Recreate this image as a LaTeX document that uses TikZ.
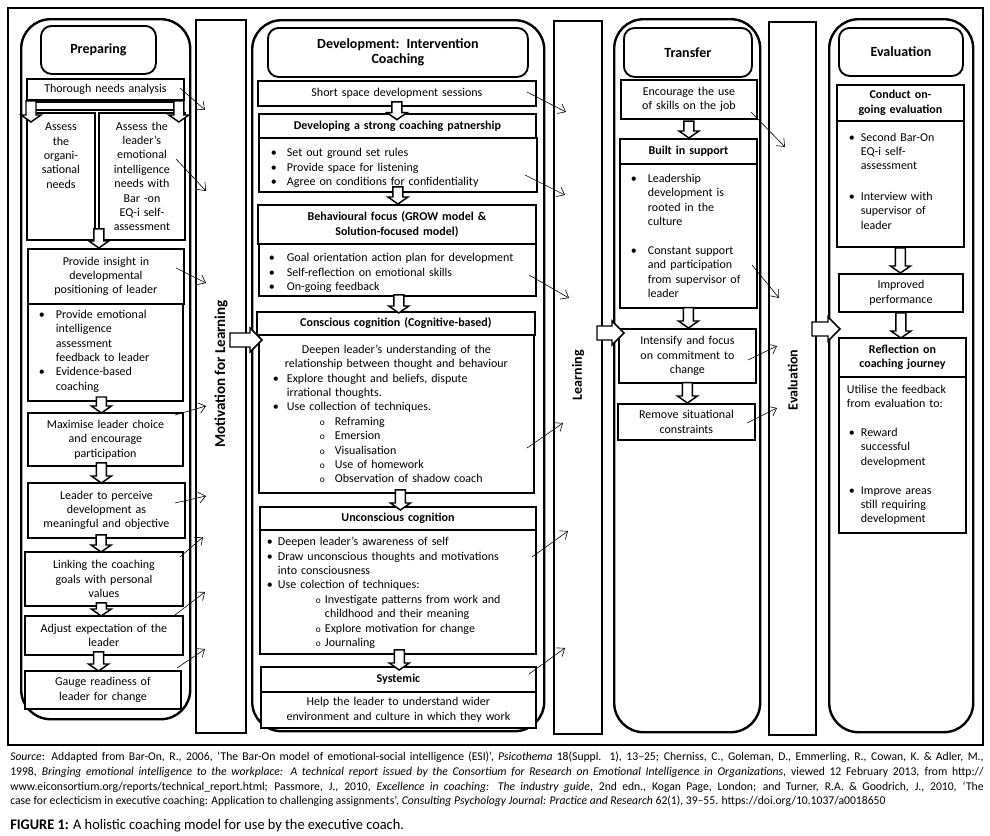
\documentclass[tikz,border=0pt]{standalone}
\usepackage{fontspec}
\setmainfont{Carlito}
\newfontfamily\condfont{Carlito}[FakeStretch=0.98]
\usetikzlibrary{calc,arrows.meta}

\newcommand\bx[7][]{%
  \pgfmathsetmacro\bxw{(#5-#3)*0.75}%
  \pgfmathsetmacro\bxh{(#6-#4)*0.75}%
  \pgfmathsetmacro\bxt{(#5-#3-6)*0.75}%
  \node[box,anchor=north west,minimum width=\bxw pt,minimum height=\bxh pt,text width=\bxt pt,#1] (#2) at (#3,#4) {#7};}
\newcommand\itm[4]{\par\noindent\hspace*{#1}\hangindent=#2\hangafter=1\makebox[\dimexpr#2-#1\relax][l]{#3}\ignorespaces#4\par}
\newcommand\bul[3]{\itm{#1}{#2}{\textbullet}{#3}}
\newcommand\sbul[3]{\itm{#1}{#2}{{\fontsize{7}{7}\selectfont o}}{#3}}
\newcommand\botpad[1]{\par\kern#1\hrule height0pt width0pt\relax}

\tikzset{
  box/.style={draw, line width=1.4pt, fill=white, inner xsep=2.25pt, inner ysep=0pt, align=center, font=\fontsize{9}{10.8}\selectfont},
  hd/.style={font=\bfseries\fontsize{9}{10.8}\selectfont},
  lbox/.style={align=left},
  ttl/.style={rounded corners=8pt, font=\bfseries\fontsize{10.5}{11}\selectfont},
  col/.style={line width=1.8pt, rounded corners=22pt},
  tall/.style={line width=1.8pt},
  txt/.style={inner sep=0pt, align=center, font=\fontsize{9}{10.8}\selectfont},
  vlabel/.style={rotate=90, inner sep=0pt, font=\bfseries\fontsize{10.5}{12}\selectfont},
  blk/.style={draw, fill=white, line width=1.1pt, line join=miter},
  blkdn/.style={to path={let \p1=(\tikztostart), \p2=(\tikztotarget) in
      (\x1-3.75pt,\y1) -- (\x1-3.75pt,\y2+5.25pt) -- (\x1-7.5pt,\y2+5.25pt) -- (\x1,\y2)
      -- (\x1+7.5pt,\y2+5.25pt) -- (\x1+3.75pt,\y2+5.25pt) -- (\x1+3.75pt,\y1) -- cycle}},
  blkrt/.style={to path={let \p1=(\tikztostart), \p2=(\tikztotarget) in
      (\x1,\y1-5.25pt) -- (\x2-9pt,\y1-5.25pt) -- (\x2-9pt,\y1-9pt) -- (\x2,\y1)
      -- (\x2-9pt,\y1+9pt) -- (\x2-9pt,\y1+5.25pt) -- (\x1,\y1+5.25pt) -- cycle}},
  thinarr/.style={line width=0.45pt, -{Straight Barb[length=5pt,width=8pt]}}
}

\begin{document}
\begin{tikzpicture}[x=0.75pt,y=-0.75pt]
\useasboundingbox (0,0) rectangle (990,836);
\fill[white] (0,0) rectangle (990,836);
\draw[line width=0.8pt] (8,8) rectangle (983,745);

% columns and bars
\bx[col]{prepcol}{20}{18}{189}{718}{}
\bx[col]{devcol}{251}{19}{543}{730}{}
\bx[col]{trcol}{613}{18}{759}{731}{}
\bx[col]{evcol}{828}{18}{972}{731}{}
\bx[tall]{mot}{195}{19}{245}{732}{}
\bx[tall]{learn}{553}{20}{601}{733}{}
\bx[tall]{evalbar}{768}{21}{815}{734}{}

% ---------- Preparing ----------
\bx[ttl]{preptitle}{40}{25}{155}{73}{Preparing}
\bx{thorough}{26}{78}{183}{99}{Thorough needs analysis}
\bx{orgneeds}{26}{112}{94}{239}{}
\node[txt,anchor=north] (orgtxt) at ([yshift=-8pt]orgneeds.north) {Assess\\the\\organi-\\sational\\needs};
\bx{leaderneeds}{98}{112}{184}{239}{Assess the\\leader's\\emotional\\intelligence\\needs with\\Bar -on\\EQ-i self-\\assessment}
\bx{insight}{27}{248}{183}{303}{Provide insight in\\developmental\\positioning of leader}
\bx[lbox]{feedback}{27}{303}{182}{398}{%
  \bul{6pt}{18.75pt}{Provide emotional\newline intelligence\newline assessment\newline feedback to leader}
  \bul{6pt}{18.75pt}{Evidence-based\newline coaching}
  \botpad{6.5pt}}
\bx{maximise}{27}{412}{182}{465}{Maximise leader choice\\and encourage\\participation}
\bx{perceive}{27}{482}{184}{537}{Leader to perceive\\development as\\meaningful and objective}
\bx{linking}{24}{551}{182}{605}{Linking the coaching\\goals with personal\\values}
\bx{adjust}{24}{615}{182}{654}{Adjust expectation of the\\leader}
\bx{gauge}{24}{670}{180}{708}{Gauge readiness of\\leader for change}

% ---------- Development ----------
\bx[ttl]{devtitle}{267}{27}{527}{76}{Development: Intervention\\Coaching}
\bx{short}{257}{80}{535}{105}{Short space development sessions}
\bx[hd]{partnerh}{258}{113}{535}{137}{Developing a strong coaching patnership}
\bx[lbox]{partnerb}{258}{137}{536}{191}{%
  \bul{6.75pt}{18.75pt}{Set out ground set rules}
  \bul{6.75pt}{18.75pt}{Provide space for listening}
  \bul{6.75pt}{18.75pt}{Agree on conditions for confidentiality}}
\bx[hd]{growh}{257}{204}{535}{243}{Behavioural focus (GROW model \&\\Solution-focused model)}
\bx[lbox]{growb}{258}{243}{535}{295}{%
  \bul{5.25pt}{18.75pt}{Goal orientation action plan for development}
  \bul{5.25pt}{18.75pt}{Self-reflection on emotional skills}
  \bul{5.25pt}{18.75pt}{On-going feedback}}
\bx[hd]{conch}{256}{311}{534}{334}{Conscious cognition (Cognitive-based)}
\bx[lbox]{concb}{258}{334}{533}{492}{%
  {\centering Deepen leader’s understanding of the\\relationship between thought and behaviour\par}
  \bul{8.25pt}{18.75pt}{Explore thought and beliefs, dispute\newline irrational thoughts.}
  \bul{8.25pt}{18.75pt}{Use collection of techniques.}
  \sbul{43.5pt}{54.75pt}{Reframing}
  \sbul{43.5pt}{54.75pt}{Emersion}
  \sbul{43.5pt}{54.75pt}{Visualisation}
  \sbul{43.5pt}{54.75pt}{Use of homework}
  \sbul{43.5pt}{54.75pt}{Observation of shadow coach}}
\bx[hd]{unch}{259}{506}{535}{529}{Unconscious cognition}
\bx[lbox]{uncb}{259}{529}{535}{653}{%
  \bul{3pt}{11.25pt}{Deepen leader’s awareness of self}
  \bul{3pt}{11.25pt}{Draw unconscious thoughts and motivations\newline into consciousness}
  \bul{3pt}{11.25pt}{Use colection of techniques:}
  \sbul{39.75pt}{46.5pt}{Investigate patterns from work and\newline childhood and their meaning}
  \sbul{39.75pt}{46.5pt}{Explore motivation for change}
  \sbul{39.75pt}{46.5pt}{Journaling}
  \botpad{3pt}}
\bx[hd]{systh}{260}{666}{535}{691}{Systemic}
\bx{systb}{260}{691}{535}{727}{Help the leader to understand wider\\environment and culture in which they work}

% ---------- Transfer ----------
\bx[ttl]{trtitle}{623}{27}{751}{76}{Transfer}
\bx{encourage}{620}{79}{756}{118}{Encourage the use\\of skills on the job}
\bx[hd]{supporth}{619}{138}{756}{163}{Built in support}
\bx[lbox]{supportb}{619}{163}{756}{307}{%
  \bul{6pt}{18.75pt}{Leadership\newline development is\newline rooted in the\newline culture}
  \vskip 10.8pt
  \bul{6pt}{18.75pt}{Constant support\newline and participation\newline from supervisor of\newline leader}
  \botpad{4.5pt}}
\bx{intensify}{618}{328}{755}{382}{Intensify and focus\\on commitment to\\change}
\bx{remove}{617}{403}{754}{439}{Remove situational\\constraints}

% ---------- Evaluation ----------
\bx[ttl]{evtitle}{838}{27}{962}{75}{Evaluation}
\bx[hd]{conducth}{836}{84}{963}{120}{Conduct on-\\going evaluation}
\bx[lbox]{conductb}{836}{120}{963}{246}{%
  \bul{6.75pt}{15.75pt}{Second Bar-On\newline EQ-i self-\newline assessment}
  \vskip 12pt
  \bul{6.75pt}{15.75pt}{Interview with\newline supervisor of\newline leader}
  \botpad{9pt}}
\bx{improved}{838}{273}{962}{311}{Improved\\performance}
\bx[hd]{reflh}{838}{337}{965}{376}{Reflection on\\coaching journey}
\bx[lbox]{reflb}{838}{376}{965}{532}{%
  {\leftskip=3.75pt Utilise the feedback\newline from evaluation to:\par}
  \vskip 10.8pt
  \bul{5.25pt}{14.25pt}{Reward\newline successful\newline development}
  \vskip 10.8pt
  \bul{5.25pt}{14.25pt}{Improve areas\newline still requiring\newline development}}

% ---------- block arrows ----------
\draw[blk] (31,102) rectangle (177,110);
\draw[blk] ([xshift=3.75pt]thorough.south west) to[blkdn] ([yshift=-7.5pt]orgneeds.north);
\draw[blk] ([xshift=-4.5pt]thorough.south east) to[blkdn] ([yshift=-7.5pt]leaderneeds.north);
\draw[blk] ([xshift=2.25pt,yshift=9pt]orgneeds.south east) to[blkdn] (insight.north);
\draw[blk] ([xshift=-3pt,yshift=3.75pt]feedback.south) to[blkdn] ([yshift=-0.75pt]maximise.north);
\draw[blk] ([xshift=-3pt,yshift=3pt]maximise.south) to[blkdn] ([yshift=-0.75pt]perceive.north);
\draw[blk] ([xshift=-4pt,yshift=3pt]perceive.south) to[blkdn] ([yshift=-0.75pt]linking.north);
\draw[blk] ([xshift=-2pt,yshift=3pt]linking.south) to[blkdn] ([yshift=-0.75pt]adjust.north);
\draw[blk] ([xshift=-4pt,yshift=3pt]adjust.south) to[blkdn] ([yshift=-0.75pt]gauge.north);

\draw[blk] ([yshift=3.75pt]short.south) to[blkdn] ([yshift=-5pt]partnerh.north);
\draw[blk] ([yshift=4.5pt]partnerb.south) to[blkdn] (growh.north);
\draw[blk] ([xshift=1pt,yshift=1.5pt]growb.south) to[blkdn] ([yshift=-1.5pt]conch.north);
\draw[blk] ([xshift=3pt,yshift=3pt]concb.south) to[blkdn] ([yshift=-3pt]unch.north);
\draw[blk] ([xshift=1pt,yshift=3.75pt]uncb.south) to[blkdn] ([yshift=-3pt]systh.north);

\draw[blk] ([yshift=-1pt]encourage.south) to[blkdn] (supporth.north);
\draw[blk] ([yshift=1pt]supportb.south) to[blkdn] (intensify.north);
\draw[blk] ([yshift=1pt]intensify.south) to[blkdn] (remove.north);

\draw[blk] (conductb.south) to[blkdn] (improved.north);
\draw[blk] (improved.south) to[blkdn] ([yshift=-0.75pt]reflh.north);

\coordinate (ha1) at (230,340); \coordinate (hb1) at (262,340);
\draw[blk] (ha1) to[blkrt] (hb1);
\coordinate (ha2) at (597,333); \coordinate (hb2) at (624,333);
\draw[blk] (ha2) to[blkrt] (hb2);
\coordinate (ha3) at (812,329); \coordinate (hb3) at (840,329);
\draw[blk] (ha3) to[blkrt] (hb3);

% ---------- thin arrows ----------
\foreach \a/\b/\c/\d [count=\i] in {180/88/205/110, 176/159/206/191, 176/268/206/283, 175/415/206/406,
    175/503/206/496, 180/557/203/537, 175/615/205/592, 177/668/205/649,
    527/92/566/112, 525/175/565/195, 529/275/569/298, 527/448/563/423, 532/557/568/531, 529/674/565/648,
    751/112/785/147, 752/265/779/298, 748/360/777/346, 747/423/777/408} {
  \coordinate (ts\i) at (\a,\b);
  \coordinate (te\i) at (\c,\d);
  \draw[thinarr] (ts\i) -- (te\i);
}

% ---------- vertical labels ----------
\node[vlabel, font=\bfseries\fontsize{11.3}{12}\selectfont] (motlbl) at ([yshift=2pt]mot.center) {Motivation for Learning};
\node[vlabel] (learnlbl) at ([yshift=2pt]learn.center) {Learning};
\node[vlabel] (evallbl) at ([yshift=-1pt]evalbar.center) {Evaluation};

% ---------- caption ----------
\node[anchor=north west, inner sep=0pt, font=\condfont\fontsize{8.9}{11}\selectfont] (src) at (10,752) {%
  \parbox{730pt}{\baselineskip=11pt
  \hbox to 730pt{\textit{Source}: Addapted from Bar-On, R., 2006, ‘The Bar-On model of emotional-social intelligence (ESI)’, \textit{Psicothema} 18(Suppl. 1), 13–25; Cherniss, C., Goleman, D., Emmerling, R., Cowan, K. \& Adler, M.,}
  \hbox to 730pt{1998, \textit{Bringing emotional intelligence to the workplace: A technical report issued by the Consortium for Research on Emotional Intelligence in Organizations}, viewed 12 February 2013, from http://}
  \hbox to 730pt{www.eiconsortium.org/reports/technical\_report.html; Passmore, J., 2010, \textit{Excellence in coaching: The industry guide}, 2nd edn., Kogan Page, London; and Turner, R.A. \& Goodrich, J., 2010, ‘The}
  \hbox{case for eclecticism in executive coaching: Application to challenging assignments’, \textit{Consulting Psychology Journal: Practice and Research} 62(1), 39–55. https://doi.org/10.1037/a0018650}}};
\node[anchor=west, inner sep=0pt, font=\condfont\fontsize{11}{13}\selectfont] (figcap) at (10,826) {\textbf{FIGURE 1:} A holistic coaching model for use by the executive coach.};
\end{tikzpicture}
\end{document}
